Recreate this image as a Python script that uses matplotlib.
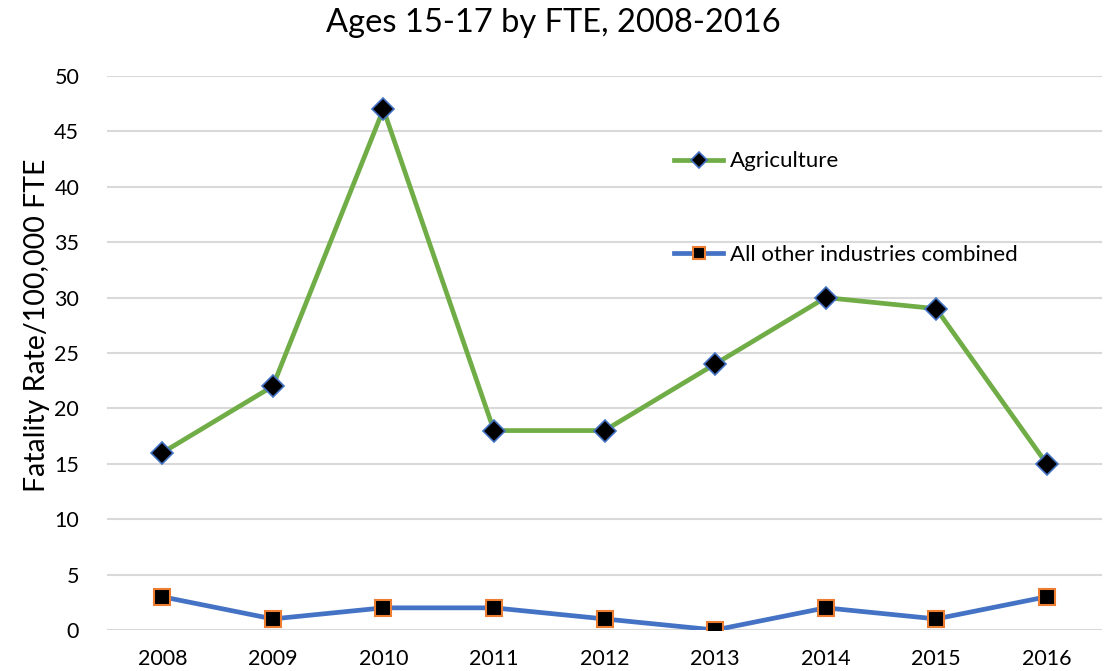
import matplotlib.pyplot as plt

years = ['2008', '2009', '2010', '2011', '2012', '2013', '2014', '2015', '2016']
agriculture = [16, 22, 47, 18, 18, 24, 30, 29, 15]
other_industries = [3, 1, 2, 2, 1, 0, 2, 1, 3]

plt.rcParams['font.family'] = ['Lato', 'DejaVu Sans']

fig = plt.figure(figsize=(11.07, 6.71), dpi=100)
ax = fig.add_axes([107 / 1107, 41 / 671, 995 / 1107, 554 / 671])

x = range(len(years))
ax.plot(x, agriculture, color='#70AD47', lw=3.4, marker='D', ms=11,
        markerfacecolor='black', markeredgecolor='#4472C4', markeredgewidth=1.2,
        label='Agriculture')
ax.plot(x, other_industries, color='#4472C4', lw=3.4, marker='s', ms=12,
        markerfacecolor='black', markeredgecolor='#ED7D31', markeredgewidth=1.5,
        label='All other industries combined')

ax.set_xlim(-0.5, len(years) - 0.5)
ax.set_ylim(0, 50)
ax.set_yticks(range(0, 51, 5))
ax.set_xticks(list(x))
ax.set_xticklabels(years)
ax.tick_params(length=0, labelsize=15.5, pad=14)
ax.tick_params(axis='y', pad=20)
ax.grid(axis='y', color='#D9D9D9', lw=1.5)
ax.set_axisbelow(True)
for s in ax.spines.values():
    s.set_visible(False)

ax.set_ylabel('Fatality Rate/100,000 FTE', fontsize=20.5)
ax.yaxis.set_label_coords(-0.057, 0.55)
fig.text(0.5, 0.965, 'Ages 15-17 by FTE, 2008-2016', ha='center', va='center', fontsize=23.5)

ax.legend(loc='upper left', bbox_to_anchor=(0.55, 0.9), frameon=False,
          fontsize=16, labelspacing=3.3, handlelength=2.2, handletextpad=0.3,
          markerscale=0.75)

fig.savefig('out.png')
